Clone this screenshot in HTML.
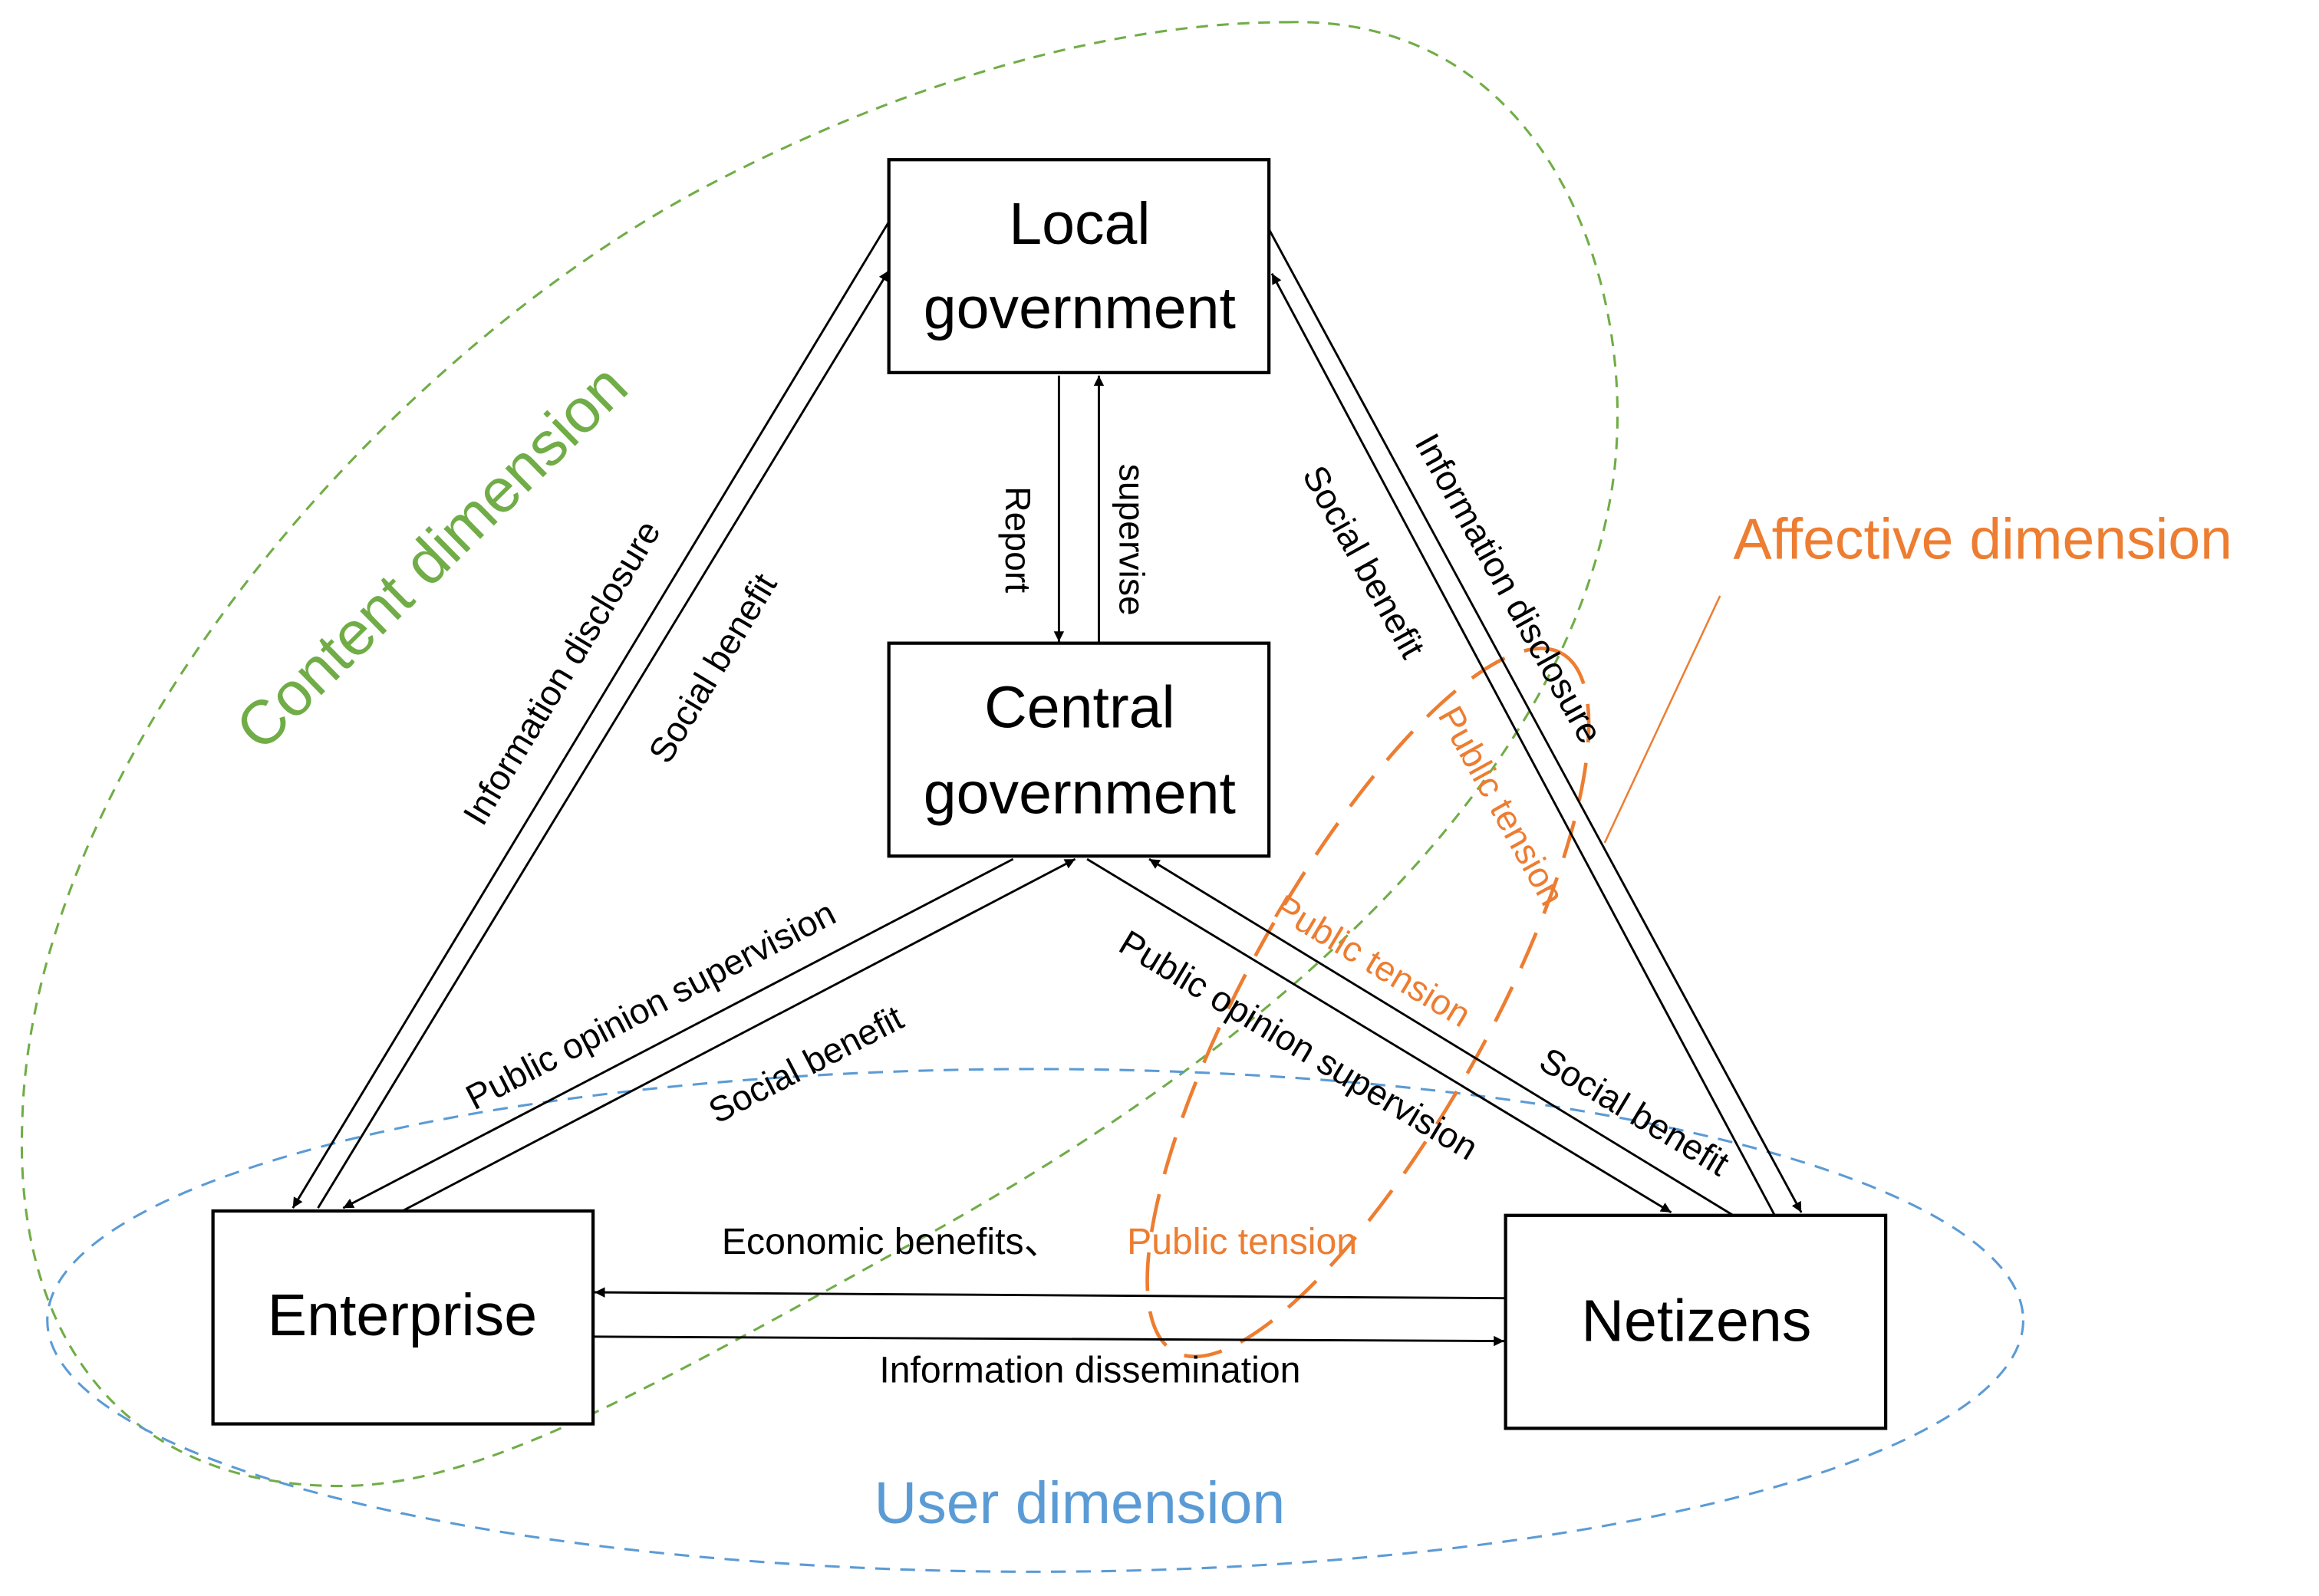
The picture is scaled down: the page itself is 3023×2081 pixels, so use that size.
<!DOCTYPE html>
<html><head><meta charset="utf-8"><style>
html,body{margin:0;padding:0;background:#fff;}
svg{display:block;}
text{font-family:"Liberation Sans","DejaVu Sans",sans-serif;}
</style></head><body>
<svg width="3023" height="2081" viewBox="0 0 1568 1079.4" preserveAspectRatio="none" xmlns="http://www.w3.org/2000/svg">
<defs>
<marker id="a" viewBox="0 0 10 10" refX="10" refY="5" markerWidth="7" markerHeight="7" orient="auto-start-reverse" markerUnits="userSpaceOnUse">
<path d="M0,0 L10,5 L0,10 z" fill="#000"/></marker>
</defs>
<!-- green content ellipse -->
<path d="M870,15 C1050,10 1110,200 1090,330 C1060,520 880,700 600,850 C420,950 320,1005 230,1005 C80,1005 10,900 15,760 C20,520 250,250 470,130 C620,50 760,15 870,15 Z" fill="none" stroke="#70ad47" stroke-width="1.6" stroke-dasharray="8,6"/>
<!-- blue user ellipse -->
<ellipse cx="700" cy="893" rx="668" ry="170" fill="none" stroke="#5b9bd5" stroke-width="1.6" stroke-dasharray="10,7"/>
<!-- orange affective ellipse -->
<ellipse cx="925" cy="678" rx="270" ry="82" transform="rotate(-61 925 678)" fill="none" stroke="#ed7d31" stroke-width="2.4" stroke-dasharray="26,14"/>
<line x1="1163" y1="403" x2="1085" y2="570" stroke="#ed7d31" stroke-width="1.3"/>

<g stroke="#000" stroke-width="2.2" fill="#fff">
<rect x="601" y="108" width="257" height="144"/>
<rect x="601" y="435" width="257" height="144"/>
<rect x="144" y="819" width="257" height="144"/>
<rect x="1018" y="822" width="257" height="144"/>
</g>
<g stroke="#000" stroke-width="1.5" fill="none">
<line x1="601" y1="150" x2="198" y2="817" marker-end="url(#a)"/>
<line x1="215" y1="817" x2="601" y2="183" marker-end="url(#a)"/>
<line x1="858" y1="155" x2="1218" y2="820" marker-end="url(#a)"/>
<line x1="1200" y1="822" x2="860" y2="185" marker-end="url(#a)"/>
<line x1="716" y1="254" x2="716" y2="434" marker-end="url(#a)"/>
<line x1="743" y1="435" x2="743" y2="254" marker-end="url(#a)"/>
<line x1="685" y1="581" x2="232" y2="817" marker-end="url(#a)"/>
<line x1="272" y1="819" x2="727" y2="581" marker-end="url(#a)"/>
<line x1="735" y1="581" x2="1130" y2="820" marker-end="url(#a)"/>
<line x1="1172" y1="822" x2="777" y2="581" marker-end="url(#a)"/>
<line x1="1018" y1="878" x2="402" y2="874" marker-end="url(#a)"/>
<line x1="401" y1="904" x2="1017" y2="907" marker-end="url(#a)"/>
</g>

<g font-size="40" text-anchor="middle" fill="#000">
<text x="730" y="165">Local</text>
<text x="730" y="222">government</text>
<text x="730" y="492">Central</text>
<text x="730" y="550">government</text>
<text x="272" y="903">Enterprise</text>
<text x="1147" y="907">Netizens</text>
</g>

<g font-size="24" text-anchor="middle" fill="#000">
<text transform="translate(380,455) rotate(-59)" dy="8">Information disclosure</text>
<text transform="translate(482,452) rotate(-59)" dy="8">Social benefit</text>
<text transform="translate(688,365) rotate(90)" dy="8">Report</text>
<text transform="translate(765,365) rotate(90)" dy="8">supervise</text>
<text transform="translate(922,380) rotate(61)" dy="8">Social benefit</text>
<text transform="translate(1020,398) rotate(61)" dy="8">Information disclosure</text>
<text transform="translate(440,680) rotate(-27.5)" dy="8">Public opinion supervision</text>
<text transform="translate(545,720) rotate(-27.5)" dy="8">Social benefit</text>
<text transform="translate(878,707) rotate(31)" dy="8">Public opinion supervision</text>
<text transform="translate(1105,752) rotate(31)" dy="8">Social benefit</text>
<text x="737" y="935" font-size="25">Information dissemination</text>
<text x="488" y="848" font-size="25" text-anchor="start">Economic benefits、</text>
</g>
<g font-size="24" text-anchor="middle" fill="#ed7d31">
<text transform="translate(1015,545) rotate(61)" dy="8">Public tension</text>
<text transform="translate(928,650) rotate(31)" dy="8">Public tension</text>
<text x="762" y="848" font-size="25" text-anchor="start">Public tension</text>
<text x="1172" y="378" font-size="39" text-anchor="start">Affective dimension</text>
</g>
<text transform="translate(292,377) rotate(-44.5)" font-size="42" text-anchor="middle" fill="#70ad47" dy="14">Content dimension</text>
<text x="730" y="1030" font-size="40" text-anchor="middle" fill="#5b9bd5">User dimension</text>
</svg>
</body></html>
